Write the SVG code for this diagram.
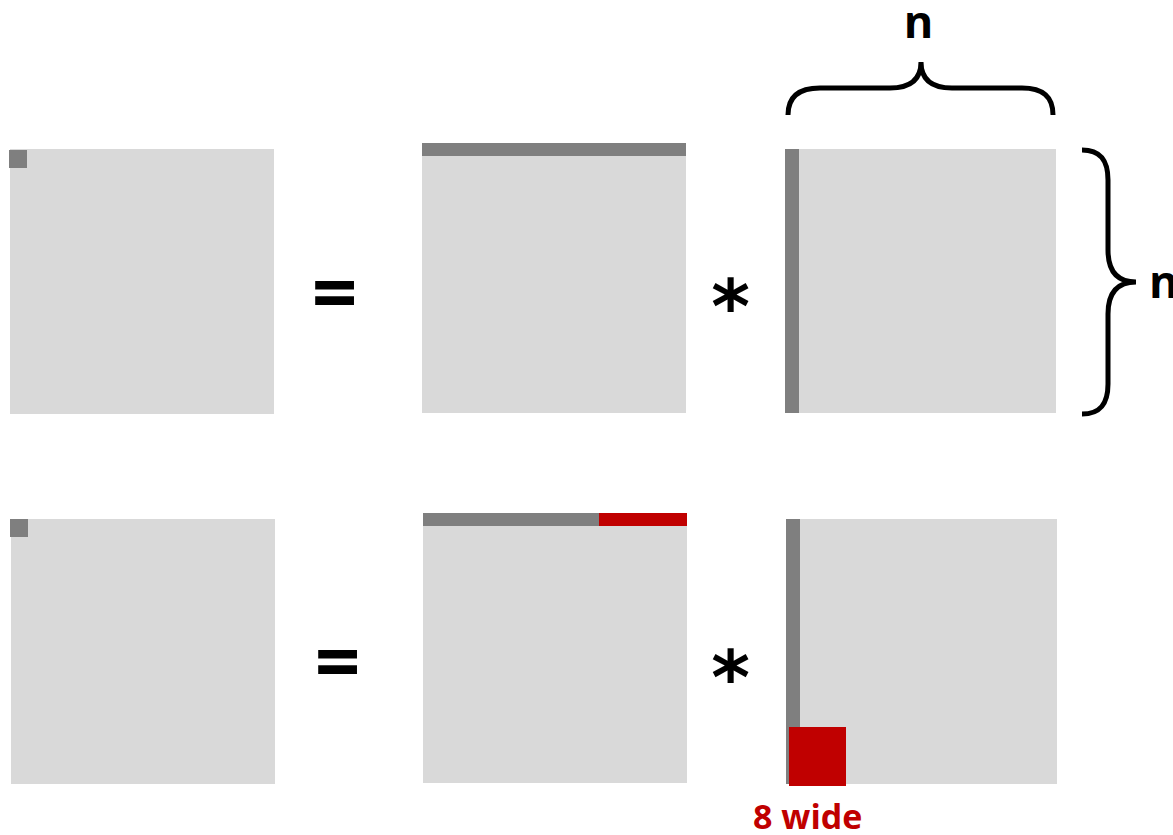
<svg xmlns="http://www.w3.org/2000/svg" width="1173" height="835" viewBox="0 0 1173 835">
<style>
.mat{fill:#d9d9d9}
.dk{fill:#7f7f7f}
.red{fill:#c00000}
.op{font-family:"Open Sans","Liberation Sans",sans-serif;font-weight:bold;fill:#000;text-anchor:middle}
.ast{font-family:"DejaVu Sans",sans-serif;font-weight:bold;fill:#000;text-anchor:middle;font-size:74px}
.lbl{font-family:"Open Sans","Liberation Sans",sans-serif;font-weight:bold;font-size:45px;fill:#000}
.brace{fill:none;stroke:#000;stroke-width:5}
</style>
<rect width="1173" height="835" fill="#fff"/>
<!-- Row 1 -->
<g id="c1">
<rect class="mat" x="10" y="149" width="264" height="265"/>
<rect class="dk" x="9" y="150" width="18" height="18"/>
</g>
<g id="eq1"><text class="op" x="334.5" y="322" font-size="80">=</text></g>
<g id="a1">
<rect class="mat" x="422" y="149" width="264" height="264"/>
<rect class="dk" x="422" y="143" width="264" height="13"/>
</g>
<g id="mul1"><text class="ast" x="730.5" y="333">*</text></g>
<g id="b1">
<rect class="mat" x="785" y="149" width="271" height="264"/>
<rect class="dk" x="785" y="149" width="14" height="264"/>
</g>
<!-- Row 2 -->
<g id="c2">
<rect class="mat" x="11" y="519" width="264" height="265"/>
<rect class="dk" x="10" y="519" width="18" height="18"/>
</g>
<g id="eq2"><text class="op" x="337.5" y="691" font-size="80">=</text></g>
<g id="a2">
<rect class="mat" x="423" y="519" width="264" height="264"/>
<rect class="dk" x="423" y="513" width="176" height="13"/>
<rect class="red" x="599" y="513" width="88" height="13"/>
</g>
<g id="mul2"><text class="ast" x="730.5" y="704">*</text></g>
<g id="b2">
<rect class="mat" x="786" y="519" width="271" height="265"/>
<rect class="dk" x="786" y="519" width="14" height="265"/>
<rect class="red" x="789" y="727" width="57" height="59"/>
</g>
<g id="label-8wide"><text x="753" y="829" font-family="'Open Sans','Liberation Sans',sans-serif" font-weight="bold" font-size="34" fill="#c00000">8 wide</text></g>
<!-- Braces -->
<g id="connectors">
<path class="brace" d="M788,115 C788,96 800,88 820,88 L890,88 C910,88 921,80 921,62 C921,80 932,88 952,88 L1022,88 C1042,88 1053,96 1053,115"/>
<path class="brace" d="M1082,150 C1100,150 1108,160 1108,180 L1108,250 C1108,272 1118,282 1136,282 C1118,282 1108,292 1108,314 L1108,384 C1108,404 1100,414 1082,414"/>
</g>
<g id="label-n-top"><text class="lbl" x="918.5" y="38" text-anchor="middle">n</text></g>
<g id="label-n-right"><text class="lbl" x="1149" y="298">n</text></g>
</svg>
